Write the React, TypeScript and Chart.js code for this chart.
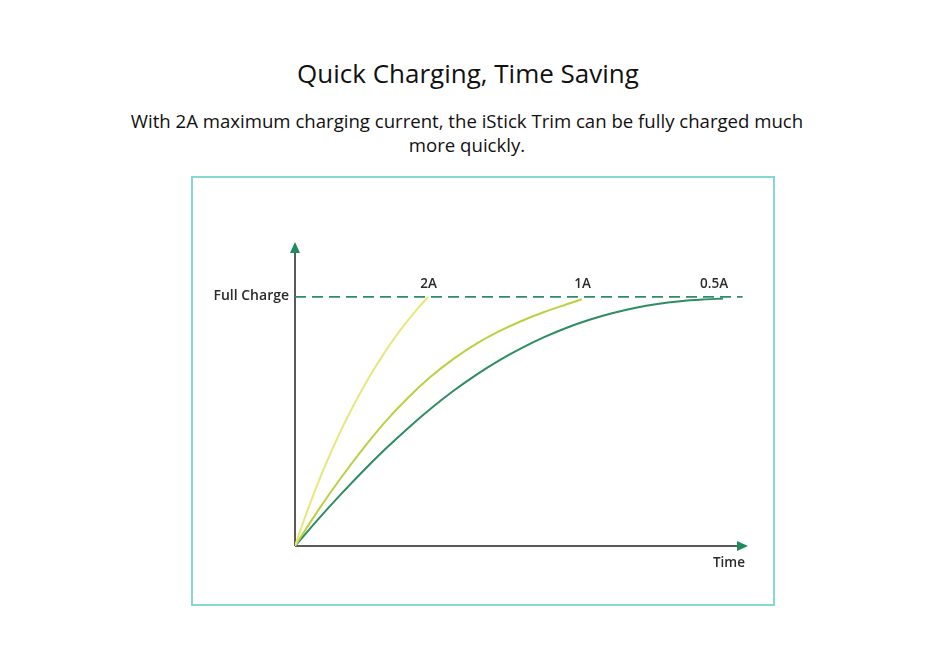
import React, { useEffect, useRef } from "react";
import { Chart, registerables } from "chart.js";

Chart.register(...registerables);

const TITLE = "Quick Charging, Time Saving";
const SUBTITLE_LINES = [
  "With 2A maximum charging current, the iStick Trim can be fully charged much",
  "more quickly.",
];

const seriesLabels = ["2A", "1A", "0.5A"];
const seriesColors = ["#e8e77c", "#bcd043", "#2e8d62"];

const x2A = [0, 2, 4, 6, 8, 10, 12, 14, 16.5, 19, 21.5, 24, 26.75, 29.4];
const y2A = [0, 10.5, 20.2, 29.4, 37.9, 45.8, 53.2, 60.1, 68.1, 75.5, 82.2, 88.4, 94.6, 100];

const x1A = [0, 5, 10, 15, 20, 25, 30, 35, 40, 45, 50, 55, 60, 63.3];
const y1A = [0, 14, 27, 39, 50, 59.6, 68, 75.1, 81.1, 86.1, 90.3, 93.9, 97, 99];

const x05A = [0, 5, 10, 15, 20, 25, 30, 35, 40, 45, 50, 55, 60, 65, 70, 75, 80, 85, 90, 94.5];
const y05A = [0, 10.5, 20.5, 30, 39, 47.4, 55.2, 62.3, 68.7, 74.4, 79.4, 83.8, 87.6, 90.8, 93.4, 95.5, 97.1, 98.2, 98.9, 99.3];

const labelX = [29.5, 63.5, 92.5];

const fullChargeLabel = "Full Charge";
const fullChargeLevel = 100;
const fullChargeLineX = [0, 98.8];
const xAxisLabel = "Time";
const xAxisLabelX = 95.8;
const xMax = 100;
const yMax = 122;

const FONT = "'Open Sans', 'Noto Sans', sans-serif";

const toPoints = (xs: number[], ys: number[]) => xs.map((x, i) => ({ x, y: ys[i] }));

const decorPlugin = {
  id: "decor",
  beforeDatasetsDraw(chart: any) {
    const { ctx, scales } = chart;
    const xs = scales.x;
    const ys = scales.y;
    const ox = xs.getPixelForValue(0);
    const oy = ys.getPixelForValue(0);
    const xEnd = xs.getPixelForValue(xMax);
    const yEnd = ys.getPixelForValue(yMax);
    ctx.save();
    ctx.strokeStyle = "#5d595a";
    ctx.lineWidth = 2;
    ctx.beginPath();
    ctx.moveTo(ox, oy);
    ctx.lineTo(ox, yEnd + 8);
    ctx.moveTo(ox, oy);
    ctx.lineTo(xEnd - 8, oy);
    ctx.stroke();
    ctx.fillStyle = "#1e8a5e";
    ctx.beginPath();
    ctx.moveTo(ox, yEnd);
    ctx.lineTo(ox - 5, yEnd + 11);
    ctx.lineTo(ox + 5, yEnd + 11);
    ctx.closePath();
    ctx.fill();
    ctx.beginPath();
    ctx.moveTo(xEnd, oy);
    ctx.lineTo(xEnd - 11, oy - 5);
    ctx.lineTo(xEnd - 11, oy + 5);
    ctx.closePath();
    ctx.fill();
    ctx.restore();
  },
  afterDatasetsDraw(chart: any) {
    const { ctx, scales } = chart;
    const xs = scales.x;
    const ys = scales.y;
    const ox = xs.getPixelForValue(0);
    const oy = ys.getPixelForValue(0);
    const fy = ys.getPixelForValue(fullChargeLevel);
    ctx.save();
    ctx.fillStyle = "#2b2b2b";
    ctx.font = `600 14px ${FONT}`;
    ctx.textBaseline = "middle";
    ctx.textAlign = "right";
    ctx.fillText(fullChargeLabel, ox - 6, fy - 1);
    ctx.font = `600 13.5px ${FONT}`;
    ctx.textAlign = "center";
    seriesLabels.forEach((lab, i) => {
      ctx.fillText(lab, xs.getPixelForValue(labelX[i]), fy - 13);
    });
    ctx.fillText(xAxisLabel, xs.getPixelForValue(xAxisLabelX), oy + 17);
    ctx.restore();
  },
};

export default function App() {
  const canvasRef = useRef<HTMLCanvasElement | null>(null);

  useEffect(() => {
    const canvas = canvasRef.current;
    if (!canvas) return;
    const seriesData = [toPoints(x2A, y2A), toPoints(x1A, y1A), toPoints(x05A, y05A)];
    const chart = new Chart(canvas, {
      type: "scatter",
      data: {
        datasets: [
          {
            label: fullChargeLabel,
            data: fullChargeLineX.map((x) => ({ x, y: fullChargeLevel })),
            showLine: true,
            borderColor: "#2e8d68",
            borderWidth: 1.8,
            borderDash: [11, 6],
            pointRadius: 0,
          },
          ...seriesLabels.map((lab, i) => ({
            label: lab,
            data: seriesData[i],
            showLine: true,
            borderColor: seriesColors[i],
            borderWidth: 2,
            cubicInterpolationMode: "monotone" as const,
            pointRadius: 0,
          })),
        ],
      },
      options: {
        responsive: false,
        animation: false,
        layout: { padding: { left: 295, right: 202, top: 242, bottom: 103 } },
        plugins: { legend: { display: false }, tooltip: { enabled: false }, title: { display: false } },
        scales: {
          x: { type: "linear", min: 0, max: xMax, display: false },
          y: { type: "linear", min: 0, max: yMax, display: false },
        },
      },
      plugins: [decorPlugin],
    });
    return () => chart.destroy();
  }, []);

  return (
    <div style={{ position: "fixed", left: 0, top: 0, width: 950, height: 649, background: "#fff", fontFamily: FONT, color: "#111" }}>
      <div style={{ position: "absolute", left: 0, width: 936, top: 57, textAlign: "center", fontSize: 26, lineHeight: "32px" }}>{TITLE}</div>
      <div style={{ position: "absolute", left: 0, width: 934, top: 109, textAlign: "center", fontSize: 18.6, lineHeight: "24px" }}>
        {SUBTITLE_LINES.map((l, i) => (
          <div key={i}>{l}</div>
        ))}
      </div>
      <div style={{ position: "absolute", left: 191, top: 176, width: 580, height: 426, border: "2px solid #86d8ce" }} />
      <canvas ref={canvasRef} width={950} height={649} style={{ position: "absolute", left: 0, top: 0, width: 950, height: 649 }} />
    </div>
  );
}
